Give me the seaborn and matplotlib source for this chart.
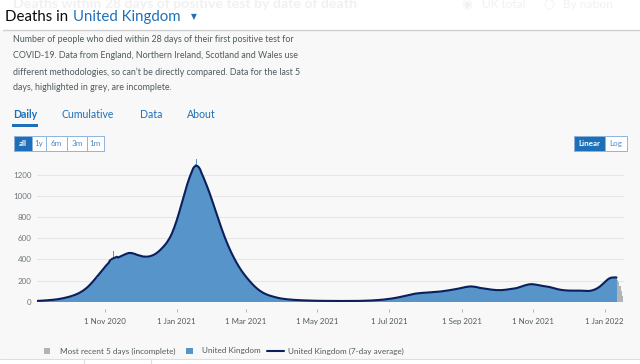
import pandas as pd
import matplotlib.pyplot as plt
import seaborn as sns
from matplotlib.patches import Rectangle
from matplotlib.lines import Line2D

# -----------------------------
# Data
# -----------------------------
start_date = "2020-09-04"

# daily deaths, one row per week starting Fri 4 Sep 2020, last complete day 11 Jan 2022
daily_deaths = [
    7, 8, 6, 9, 10, 11, 12,
    12, 13, 11, 15, 16, 17, 18,
    19, 20, 18, 23, 25, 27, 28,
    31, 33, 30, 38, 41, 44, 47,
    50, 52, 49, 60, 64, 68, 75,
    80, 84, 82, 96, 103, 112, 120,
    130, 140, 138, 160, 172, 186, 199,
    212, 225, 228, 252, 266, 280, 294,
    302, 318, 326, 344, 358, 376, 392,
    388, 396, 476, 404, 410, 414, 420,
    424, 430, 428, 438, 444, 450, 456,
    462, 468, 458, 464, 470, 452, 455,
    448, 442, 446, 436, 430, 438, 426,
    424, 430, 415, 428, 432, 426, 436,
    432, 440, 446, 452, 460, 470, 482,
    488, 498, 510, 525, 540, 552, 566,
    578, 596, 620, 648, 672, 700, 735,
    770, 800, 842, 880, 920, 960, 1005,
    1040, 1080, 1115, 1150, 1190, 1215, 1240,
    1262, 1280, 1300, 1355, 1295, 1270, 1250,
    1225, 1200, 1172, 1148, 1120, 1090, 1060,
    1030, 1000, 968, 935, 900, 862, 828,
    796, 765, 734, 700, 668, 638, 605,
    578, 552, 528, 500, 478, 452, 430,
    408, 390, 368, 350, 330, 312, 296,
    280, 266, 250, 238, 224, 210, 196,
    184, 172, 160, 150, 138, 128, 118,
    110, 102, 94, 88, 82, 76, 70,
    66, 62, 58, 55, 52, 49, 46,
    43, 40, 36, 34, 32, 30, 28,
    27, 26, 24, 23, 22, 21, 20,
    19, 18, 17, 17, 16, 15, 15,
    14, 14, 13, 13, 12, 12, 11,
    11, 10, 10, 10, 9, 10, 9,
    9, 8, 9, 8, 9, 8, 8,
    8, 7, 8, 7, 8, 7, 7,
    7, 6, 7, 7, 6, 7, 7,
    6, 7, 7, 6, 7, 7, 8,
    7, 7, 6, 7, 8, 7, 7,
    7, 8, 7, 8, 9, 8, 9,
    9, 10, 9, 11, 10, 12, 12,
    13, 14, 13, 15, 16, 17, 18,
    19, 20, 19, 22, 24, 25, 27,
    28, 30, 29, 33, 35, 37, 40,
    41, 43, 44, 48, 51, 54, 57,
    58, 61, 63, 66, 70, 72, 75,
    76, 78, 77, 81, 83, 80, 84,
    85, 84, 86, 88, 86, 87, 89,
    88, 90, 87, 92, 94, 91, 95,
    96, 98, 95, 100, 103, 101, 106,
    106, 108, 105, 112, 116, 114, 120,
    118, 122, 120, 126, 130, 128, 135,
    138, 140, 136, 144, 146, 142, 146,
    145, 140, 152, 138, 136, 133, 132,
    130, 128, 124, 126, 122, 120, 121,
    118, 116, 112, 115, 113, 110, 112,
    110, 108, 104, 112, 111, 108, 113,
    112, 114, 113, 118, 120, 119, 124,
    122, 124, 121, 130, 134, 136, 142,
    144, 148, 146, 156, 160, 162, 168,
    168, 166, 162, 170, 164, 165, 160,
    158, 155, 150, 154, 150, 148, 146,
    145, 143, 138, 142, 139, 135, 130,
    126, 122, 117, 120, 116, 113, 112,
    110, 108, 104, 109, 107, 105, 106,
    105, 104, 100, 107, 106, 104, 108,
    106, 104, 102, 106, 103, 101, 104,
    102, 100, 98, 103, 104, 108, 114,
    118, 122, 126, 134, 142, 152, 164,
    176, 188, 198, 208, 216, 224, 230,
    234, 236, 232, 228, 222,
]

# most recent 5 days (incomplete), 12-16 Jan 2022
incomplete_deaths = [205, 185, 150, 105, 55]

y_ticks = [0, 200, 400, 600, 800, 1000, 1200]
x_tick_dates = ["2020-11-01", "2021-01-01", "2021-03-01", "2021-05-01",
                "2021-07-01", "2021-09-01", "2021-11-01", "2022-01-01"]
x_tick_labels = ["1 Nov 2020", "1 Jan 2021", "1 Mar 2021", "1 May 2021",
                 "1 Jul 2021", "1 Sep 2021", "1 Nov 2021", "1 Jan 2022"]

description = [
    "Number of people who died within 28 days of their first positive test for",
    "COVID-19. Data from England, Northern Ireland, Scotland and Wales use",
    "different methodologies, so can\u2019t be directly compared. Data for the last 5",
    "days, highlighted in grey, are incomplete.",
]
tabs = ["Daily", "Cumulative", "Data", "About"]
range_buttons = ["all", "1y", "6m", "3m", "1m"]
scale_buttons = ["Linear", "Log"]

# -----------------------------
# Frames
# -----------------------------
df = pd.DataFrame({"date": pd.date_range(start_date, periods=len(daily_deaths)),
                   "deaths": daily_deaths})
df["avg"] = df["deaths"].rolling(7, center=True, min_periods=4).mean()
grey = pd.DataFrame({"date": pd.date_range(df["date"].iloc[-1] + pd.Timedelta(days=1),
                                           periods=len(incomplete_deaths)),
                     "deaths": incomplete_deaths})

# -----------------------------
# Style
# -----------------------------
sns.set_theme(style="white")
plt.rcParams['font.family'] = ['Lato', 'DejaVu Sans']

BLUE = "#1d70b8"
BAR = "#5694ca"
NAVY = "#0b1f5c"
GREY_BAR = "#b1b4b6"
TEXT = "#0b0c0c"
MUTED = "#505a5f"
FADED = "#f1f1f1"

W, H = 640, 364


def fx(px):
    return px / W


def fy(py):
    return 1 - py / H


fig = plt.figure(figsize=(6.4, 3.64), dpi=100, facecolor="white")

# grey panel + separators
fig.add_artist(Rectangle((0, fy(359)), 1, (359 - 30) / H, transform=fig.transFigure,
                         facecolor="#f8f8f8", edgecolor="none", zorder=-10))
fig.add_artist(Line2D([fx(3), 1], [fy(30), fy(30)], color="#cfcfcf", lw=1.0))
fig.add_artist(Line2D([0, 1], [fy(359), fy(359)], color="#dedede", lw=0.8))
for xv in [84, 151]:
    fig.add_artist(Line2D([fx(xv), fx(xv)], [fy(359), 0], color="#dedede", lw=0.8))

# -----------------------------
# Header
# -----------------------------
fig.text(fx(13), fy(8), "Deaths within 28 days of positive test by date of death",
         fontsize=10.2, weight="bold", color=FADED, va="baseline", zorder=0)
fig.text(fx(461), fy(8.5), "\u25c9", fontsize=9, color=FADED, va="baseline",
         family=["DejaVu Sans"], zorder=0)
fig.text(fx(482), fy(8.5), "UK total", fontsize=8.5, color=FADED, va="baseline", zorder=0)
fig.text(fx(543), fy(8.5), "\u25cb", fontsize=9, color=FADED, va="baseline",
         family=["DejaVu Sans"], zorder=0)
fig.text(fx(563), fy(8.5), "By nation", fontsize=8.5, color=FADED, va="baseline", zorder=0)

fig.text(fx(5), fy(20.7), "Deaths in", fontsize=10.8, color=TEXT, va="baseline", zorder=2)
fig.text(fx(73), fy(20.7), "United Kingdom", fontsize=10.8, color=BLUE, va="baseline", zorder=2)
fig.text(fx(191), fy(19.5), "\u25bc", fontsize=5.5, color=BLUE, va="baseline",
         family=["DejaVu Sans"], zorder=2)

for i, line in enumerate(description):
    fig.text(fx(13), fy(40 + i * 16), line, fontsize=6.4, color=MUTED, va="center")

tab_x = [13.5, 61, 140, 186.5]
for name, xv in zip(tabs, tab_x):
    fig.text(fx(xv), fy(115), name, fontsize=7.6, color=BLUE, va="center",
             weight="bold" if name == "Daily" else "normal")
fig.add_artist(Rectangle((fx(12), fy(126.5)), fx(37.6) - fx(12), 2.5 / H,
                         transform=fig.transFigure, facecolor=BLUE, edgecolor="none"))


def button_group(edges, labels, active):
    top, bottom = 136, 150.7
    for i, lab in enumerate(labels):
        x0, x1 = edges[i], edges[i + 1]
        on = lab == active
        fig.add_artist(Rectangle((fx(x0), fy(bottom)), fx(x1) - fx(x0), (bottom - top) / H,
                                 transform=fig.transFigure,
                                 facecolor=BLUE if on else "white",
                                 edgecolor="#8fb4dc", lw=0.7))
        fig.text(fx((x0 + x1) / 2), fy((top + bottom) / 2), lab, fontsize=5.8,
                 ha="center", va="center", color="white" if on else "#4f86c6",
                 weight="bold" if on else "normal")


button_group([14, 31.7, 46.3, 67, 86.7, 104], range_buttons, "all")
button_group([574, 605, 626.7], scale_buttons, "Linear")

# -----------------------------
# Chart
# -----------------------------
ax = fig.add_axes([fx(36.6), fy(301.7), fx(624) - fx(36.6), (301.7 - 158.1) / H])
ax.set_facecolor("none")

ax.bar(df["date"], df["deaths"], width=1.02, color=BAR, linewidth=0, antialiased=False)
ax.bar(grey["date"], grey["deaths"], width=1.02, color=GREY_BAR, linewidth=0, antialiased=False)
sns.lineplot(data=df, x="date", y="avg", ax=ax, color=NAVY, linewidth=1.5)

ax.set_xlim(pd.Timestamp("2020-09-03 12:00"), pd.Timestamp("2022-01-17 10:00"))
ax.set_ylim(0, 1360)
ax.set_yticks(y_ticks)
ax.set_yticklabels([str(v) for v in y_ticks])
ax.set_xticks(pd.to_datetime(x_tick_dates))
ax.set_xticklabels(x_tick_labels)
ax.set_xlabel("")
ax.set_ylabel("")

ax.yaxis.grid(True, color="#e6e6e6", linewidth=0.8)
ax.xaxis.grid(False)
ax.set_axisbelow(True)
for s in ax.spines.values():
    s.set_visible(False)
ax.spines["bottom"].set_position(("outward", 5))
ax.tick_params(axis="y", length=0, pad=3.5, labelsize=5.8, labelcolor="#6f777b")
ax.tick_params(axis="x", length=2.5, width=0.7, color="#b1b4b6", pad=4,
               labelsize=5.7, labelcolor=MUTED, bottom=True)

# -----------------------------
# Legend
# -----------------------------
ly = 351
fig.add_artist(Rectangle((fx(44), fy(ly + 3)), fx(6), 6 / H, transform=fig.transFigure,
                         facecolor=GREY_BAR, edgecolor="none"))
fig.text(fx(60), fy(ly), "Most recent 5 days (incomplete)", fontsize=5.9, color=MUTED, va="center")
fig.add_artist(Rectangle((fx(186), fy(ly + 3)), fx(6.5), 6 / H, transform=fig.transFigure,
                         facecolor=BAR, edgecolor="none"))
fig.text(fx(202), fy(ly), "United Kingdom", fontsize=5.9, color=MUTED, va="center")
fig.add_artist(Line2D([fx(267), fx(284)], [fy(ly), fy(ly)], color=NAVY, lw=1.5))
fig.text(fx(288), fy(ly), "United Kingdom (7-day average)", fontsize=5.9, color=MUTED, va="center")

fig.savefig("out.png", dpi=100, facecolor=fig.get_facecolor())
